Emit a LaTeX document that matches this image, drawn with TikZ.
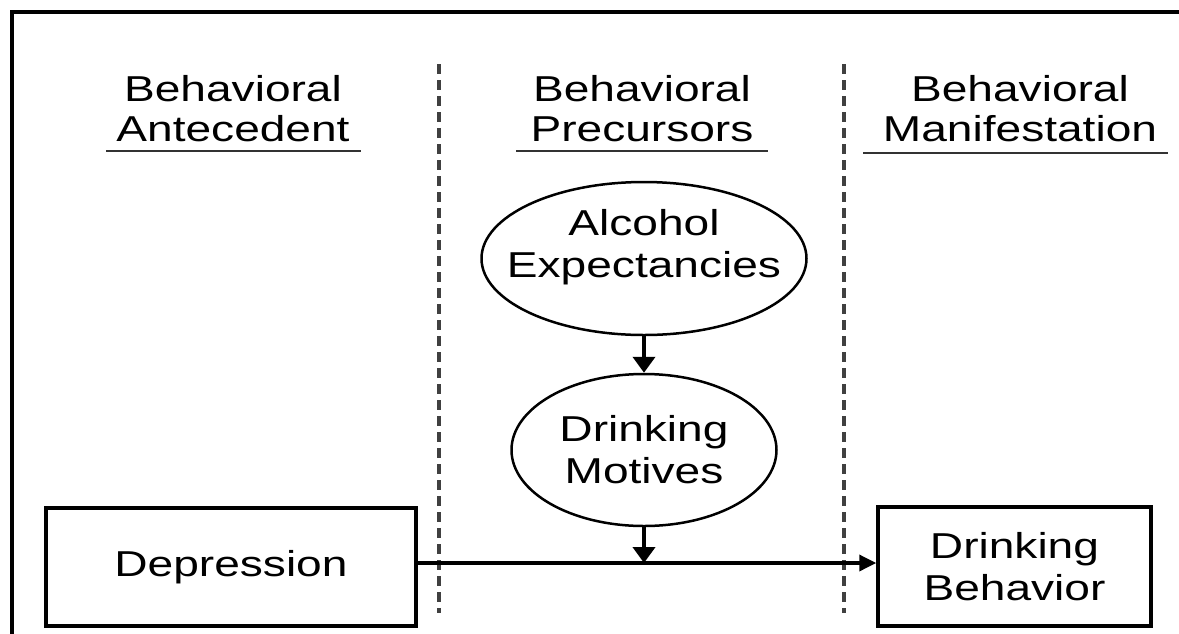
\documentclass[tikz,border=0pt]{standalone}
\usepackage{fontspec}
\setmainfont{Liberation Sans}[FakeStretch=1.28]
\usetikzlibrary{shapes.geometric,arrows.meta}
\begin{document}
\begin{tikzpicture}[x=1pt,y=-1pt,
  txt/.style={font=\fontsize{36}{42}\selectfont, align=center, inner sep=0pt},
  head/.style={font=\fontsize{36}{40}\selectfont, align=center, inner sep=0pt},
  uline/.style={line width=2.5pt, black!80},
  frame/.style={line width=3.3pt},
  sep/.style={line width=4pt, black!75, dash pattern=on 10pt off 6pt},
  box/.style={draw, line width=3.5pt, inner sep=0pt},
  oval/.style={draw, ellipse, line width=2.5pt, inner sep=0pt},
  harr/.style={line width=3.5pt, -{Triangle[length=17pt,width=16pt]}},
  varr/.style={line width=4pt, -{Triangle[length=16pt,width=22pt]}}]
\useasboundingbox (0,0) rectangle (1179,633);
% frame (top and left edges)
\draw[frame] (12,640) -- (12,12) -- (1185,12);
% column separators
\draw[sep] (439,64) -- (439,613);
\draw[sep] (844,64) -- (844,613);
% headers
\node[head] (h1) at (233,109) {Behavioral\\Antecedent};
\node[head] (h2) at (642,109) {Behavioral\\Precursors};
\node[head] (h3) at (1020,109) {Behavioral\\Manifestation};
\draw[uline] (106,151) -- (361,151);
\draw[uline] (516,151) -- (768,151);
\draw[uline] (863,153) -- (1168,153);
% nodes
\node[oval, minimum width=325pt, minimum height=153pt,
      label={[txt, yshift=11pt]center:{Alcohol\\Expectancies}}] (ae) at (644,258.5) {};
\node[oval, txt, minimum width=265pt, minimum height=152pt] (dm) at (644,450) {Drinking\\Motives};
\node[box, txt, minimum width=370pt, minimum height=118pt] (dep) at (231,567) {Depression};
\node[box, txt, minimum width=273pt, minimum height=119pt] (db) at (1014.5,566.5) {Drinking\\Behavior};
\coordinate (j) at (644,563);
% connectors
\draw[varr] (ae.south) -- (dm.north);
\draw[harr] (dep.east |- j) -- (db.west |- j);
\draw[varr] (dm.south) -- (j);
\end{tikzpicture}
\end{document}
